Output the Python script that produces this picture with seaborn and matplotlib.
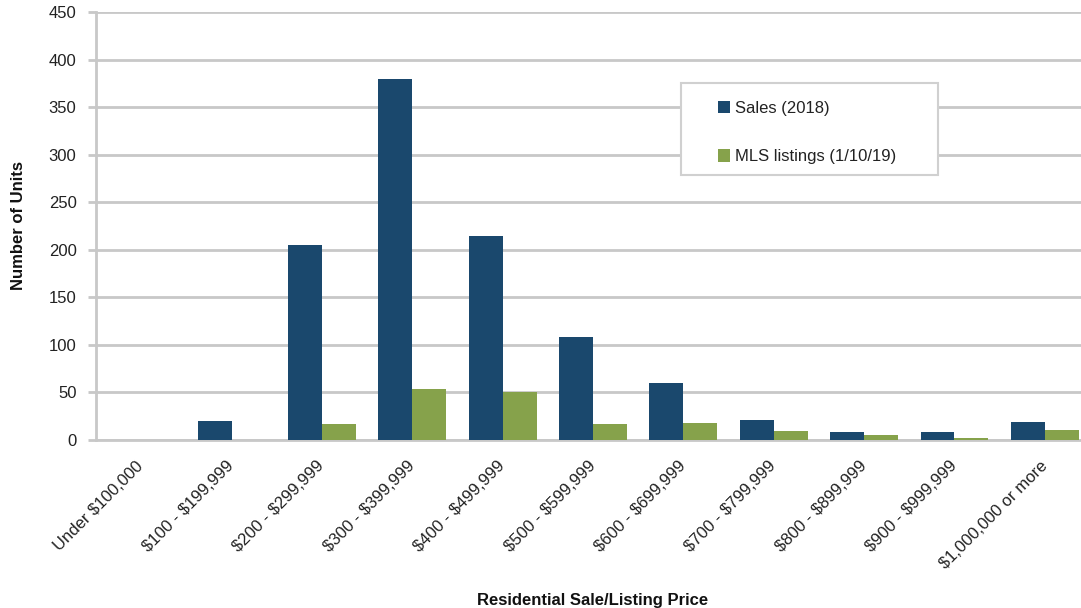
import matplotlib
matplotlib.use("Agg")
import matplotlib.pyplot as plt
import matplotlib.patches as mpatches
import pandas as pd
import seaborn as sns

# Price bands and unit counts
categories = [
    "Under $100,000", "$100 - $199,999", "$200 - $299,999", "$300 - $399,999",
    "$400 - $499,999", "$500 - $599,999", "$600 - $699,999", "$700 - $799,999",
    "$800 - $899,999", "$900 - $999,999", "$1,000,000 or more",
]
sales_2018 = [0, 20, 205, 380, 215, 108, 60, 21, 8, 8, 19]
mls_listings = [0, 0, 17, 54, 50, 17, 18, 9, 5, 2, 11]
series_names = ["Sales (2018)", "MLS listings (1/10/19)"]
y_ticks = [0, 50, 100, 150, 200, 250, 300, 350, 400, 450]

colors = ["#1A486D", "#86A24B"]
grid_gray = "#C8C8C8"

sns.set_theme(style="white")
plt.rcParams["font.family"] = ["Liberation Sans", "DejaVu Sans"]
plt.rcParams["text.parse_math"] = False

df = pd.DataFrame({
    "Price": categories * 2,
    "Units": sales_2018 + mls_listings,
    "Series": [series_names[0]] * len(categories) + [series_names[1]] * len(categories),
})

fig = plt.figure(figsize=(10.81, 6.08), dpi=100)
W, H = 1081, 608
left, right, bottom, top = 96, 1090, 440, 12
ax = fig.add_axes([left / W, 1 - bottom / H, (right - left) / W, (bottom - top) / H])

sns.barplot(data=df, x="Price", y="Units", hue="Series", order=categories,
            hue_order=series_names, palette=colors, width=0.75, gap=0,
            saturation=1, legend=False, ax=ax, zorder=3, linewidth=0)

ax.set_xlim(-0.5, len(categories) - 0.5)
ax.set_ylim(0, 450)
ax.set_yticks(y_ticks)
ax.yaxis.grid(True, color=grid_gray, linewidth=2, zorder=0)
ax.set_axisbelow(True)

# Category labels at centers, tick marks at category boundaries
ax.set_xticks(range(len(categories)))
ax.set_xticklabels(categories, rotation=45, ha="right", va="center",
                   rotation_mode="anchor", fontsize=12, color="#222222")
ax.tick_params(axis="x", which="major", length=0, pad=17)
ax.set_xticks([i - 0.5 for i in range(len(categories) + 1)], minor=True)
ax.tick_params(axis="x", which="minor", length=5, width=1.5, color=grid_gray,
               direction="out")
ax.tick_params(axis="y", length=6, width=2, color=grid_gray, labelsize=12,
               labelcolor="#222222", pad=8, left=True)

for side in ["top", "right"]:
    ax.spines[side].set_visible(False)
for side in ["left", "bottom"]:
    ax.spines[side].set_color(grid_gray)
    ax.spines[side].set_linewidth(2)

ax.set_xlabel("Residential Sale/Listing Price", fontsize=12, fontweight="bold",
              color="#111111")
ax.xaxis.set_label_coords(0.5, -(593 - bottom) / (bottom - top))
ax.set_ylabel("Number of Units", fontsize=12, fontweight="bold", color="#111111")
ax.yaxis.set_label_coords(-(96 - 26) / (right - left), 0.5)

# Legend with a plain rectangular frame
frame = mpatches.Rectangle((681 / W, 1 - 175 / H), (938 - 681) / W, (175 - 83) / H,
                           transform=fig.transFigure, facecolor="white",
                           edgecolor="#D0D0D0", linewidth=1.5, zorder=5)
fig.patches.append(frame)
handles = [mpatches.Patch(facecolor=c, edgecolor="none") for c in colors]
leg = fig.legend(handles, series_names, loc="upper left",
                 bbox_to_anchor=(718 / W, 1 - 101 / H), frameon=False,
                 fontsize=12, handlelength=0.75, handleheight=0.75,
                 handletextpad=0.3, labelspacing=2.0, borderpad=0,
                 borderaxespad=0)
leg.set_zorder(6)
for t in leg.get_texts():
    t.set_color("#222222")

fig.savefig("out.png", dpi=100)
